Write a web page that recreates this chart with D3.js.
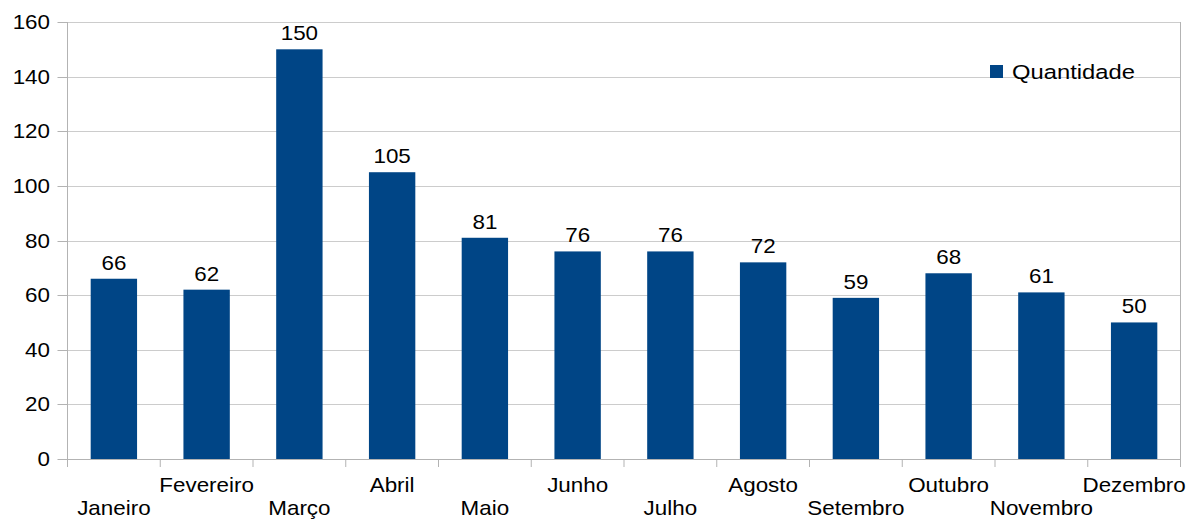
<!DOCTYPE html>
<html>
<head>
<meta charset="utf-8">
<script src="https://cdn.jsdelivr.net/npm/d3@7"></script>
<style>
  html, body { margin: 0; padding: 0; background: #fff; }
  svg text { font-family: "Liberation Sans", Arial, sans-serif; fill: #000; }
</style>
</head>
<body>
<svg id="chart" width="1191" height="519"></svg>
<script>
const months = ["Janeiro", "Fevereiro", "Março", "Abril", "Maio", "Junho",
                "Julho", "Agosto", "Setembro", "Outubro", "Novembro", "Dezembro"];
const quantidade = [66, 62, 150, 105, 81, 76, 76, 72, 59, 68, 61, 50];
const yTicks = [0, 20, 40, 60, 80, 100, 120, 140, 160];
const seriesName = "Quantidade";

const plot = { left: 67.5, right: 1180.5, top: 22, bottom: 459 };
const barColor = "#004586";
const gridColor = "#cccccc";
const axisColor = "#b3b3b3";
const fontSize = 20;
const stretch = 1.12;   // glyphs are drawn slightly wide

const svg = d3.select("#chart");

const x = d3.scaleBand().domain(months).range([plot.left, plot.right]).paddingInner(0.5).paddingOuter(0.25);
const band = d3.scaleBand().domain(months).range([plot.left, plot.right]);
const y = d3.scaleLinear().domain([0, 160]).range([plot.bottom, plot.top]);

// helper: place wide text
function txt(sel, tx, ty, anchor, size = fontSize, sx = stretch) {
  return sel.attr("text-anchor", anchor)
    .attr("font-size", size)
    .attr("transform", `translate(${tx},${ty}) scale(${sx},1)`);
}

// horizontal gridlines
svg.append("g").selectAll("line").data(yTicks).join("line")
  .attr("x1", plot.left).attr("x2", plot.right)
  .attr("y1", d => Math.round(y(d)) + 0.5).attr("y2", d => Math.round(y(d)) + 0.5)
  .attr("stroke", gridColor).attr("stroke-width", 1);

// right border of the plot
svg.append("line")
  .attr("x1", plot.right).attr("x2", plot.right)
  .attr("y1", plot.top).attr("y2", plot.bottom)
  .attr("stroke", axisColor);

// bars
svg.append("g").selectAll("rect").data(quantidade).join("rect")
  .attr("x", (d, i) => x(months[i]))
  .attr("width", x.bandwidth())
  .attr("y", d => y(d))
  .attr("height", d => y(0) - y(d))
  .attr("fill", barColor);

// value labels
svg.append("g").selectAll("text").data(quantidade).join("text")
  .each(function (d, i) {
    txt(d3.select(this), x(months[i]) + x.bandwidth() / 2, y(d) - 9, "middle");
  })
  .text(d => d);

// y axis line and ticks
svg.append("line")
  .attr("x1", plot.left).attr("x2", plot.left)
  .attr("y1", plot.top).attr("y2", plot.bottom + 8)
  .attr("stroke", axisColor);
svg.append("g").selectAll("line").data(yTicks).join("line")
  .attr("x1", plot.left - 10).attr("x2", plot.left)
  .attr("y1", d => Math.round(y(d)) + 0.5).attr("y2", d => Math.round(y(d)) + 0.5)
  .attr("stroke", axisColor);
svg.append("g").selectAll("text").data(yTicks).join("text")
  .each(function (d) { txt(d3.select(this), 50, y(d) + 7, "end"); })
  .text(d => d);

// x axis line and category ticks
svg.append("line")
  .attr("x1", plot.left).attr("x2", plot.right)
  .attr("y1", plot.bottom + 0.5).attr("y2", plot.bottom + 0.5)
  .attr("stroke", axisColor);
const bounds = months.map(m => band(m)).concat([plot.right]);
svg.append("g").selectAll("line").data(bounds).join("line")
  .attr("x1", d => d).attr("x2", d => d)
  .attr("y1", plot.bottom).attr("y2", plot.bottom + 8)
  .attr("stroke", axisColor);

// category labels, staggered over two rows
svg.append("g").selectAll("text").data(months).join("text")
  .each(function (m, i) {
    txt(d3.select(this), band(m) + band.bandwidth() / 2, i % 2 === 0 ? 515 : 492, "middle");
  })
  .text(m => m);

// legend
const lg = svg.append("g");
lg.append("rect").attr("x", 990).attr("y", 65).attr("width", 13).attr("height", 13).attr("fill", barColor);
txt(lg.append("text"), 1012, 79, "start", 20.5, 1.16).text(seriesName);
</script>
</body>
</html>
